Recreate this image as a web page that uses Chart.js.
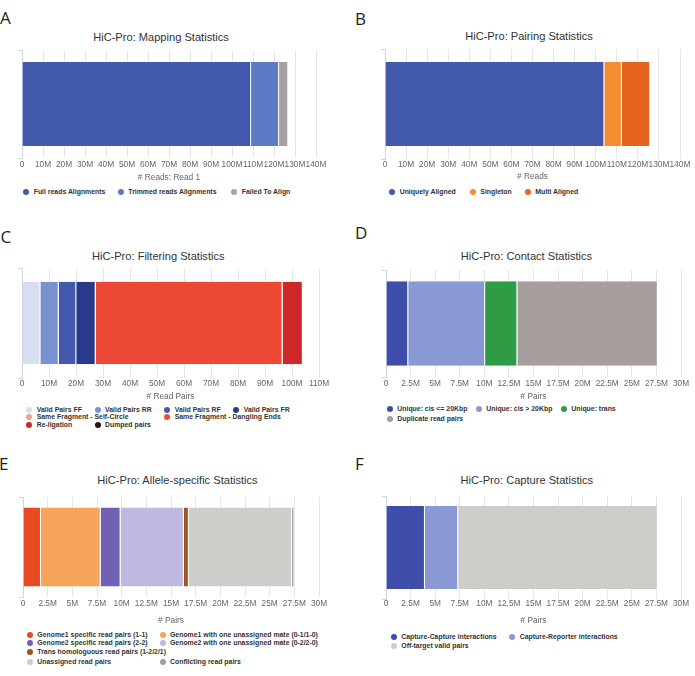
<!DOCTYPE html>
<html><head><meta charset="utf-8">
<script src="https://cdn.jsdelivr.net/npm/chart.js@4.4.1/dist/chart.umd.min.js"></script>
<style>
html,body{margin:0;padding:0;background:#fff;}
body{width:695px;height:676px;position:relative;overflow:hidden;font-family:"Liberation Sans",Arial,sans-serif;}
.letter{position:absolute;font-family:"Open Sans",sans-serif;font-size:17px;line-height:17px;color:#231f20;}
.title{position:absolute;font-size:11.1px;line-height:11px;color:#333;white-space:nowrap;transform:translateX(-50%);}
canvas{position:absolute;}
.leg{position:absolute;font-size:6.9px;font-weight:bold;color:#333;white-space:nowrap;line-height:8px;}
.leg i{position:absolute;width:6px;height:6px;border-radius:50%;left:-10.5px;top:1px;}
</style></head><body>
<script>
// ---------- DATA ----------
// A: Mapping statistics
const mapSeries = ['Full reads Alignments', 'Trimmed reads Alignments', 'Failed To Align'];
const mapValues = [109.1e6, 13.3e6, 4.4e6];
// B: Pairing statistics
const pairSeries = ['Uniquely Aligned', 'Singleton', 'Multi Aligned'];
const pairValues = [104.1e6, 8.3e6, 13.5e6];
// C: Filtering statistics
const filtSeries = ['Valid Pairs FF', 'Valid Pairs RR', 'Valid Pairs RF', 'Valid Pairs FR',
  'Same Fragment - Self-Circle', 'Same Fragment - Dangling Ends', 'Re-ligation', 'Dumped pairs'];
const filtValues = [6.8e6, 6.8e6, 6.5e6, 7.2e6, 0.1e6, 69.1e6, 7.5e6, 0.02e6];
// D: Contact statistics
const contSeries = ['Unique: cis <= 20Kbp', 'Unique: cis > 20Kbp', 'Unique: trans', 'Duplicate read pairs'];
const contValues = [2.26e6, 7.82e6, 3.28e6, 14.28e6];
// E: Allele-specific statistics
const alleleSeries = ['Genome1 specific read pairs (1-1)', 'Genome1 with one unassigned mate (0-1/1-0)',
  'Genome2 specific read pairs (2-2)', 'Genome2 with one unassigned mate (0-2/2-0)',
  'Trans homologuous read pairs (1-2/2/1)', 'Unassigned read pairs', 'Conflicting read pairs'];
const alleleValues = [1.82e6, 6.05e6, 2.02e6, 6.41e6, 0.51e6, 10.46e6, 0.24e6];
// F: Capture statistics
const capSeries = ['Capture-Capture interactions', 'Capture-Reporter interactions', 'Off-target valid pairs'];
const capValues = [3.96e6, 3.38e6, 20.30e6];

// axis ranges (tick labels are formatted as 0, 10M, 2.5M ...)
const axisMaxReads = 140e6, axisStepReads = 10e6;
const axisMaxFilt = 110e6, axisStepFilt = 10e6;
const axisMaxPairs = 30e6, axisStepPairs = 2.5e6;

// ---------- STYLES ----------
const mapColors = ['#4259ae', '#5b7bc4', '#a8a1a1'];
const pairColors = ['#4259ae', '#f58d30', '#e4631e'];
const filtColors = ['#d6def2', '#7891d1', '#4259ae', '#293a8b', '#f2a293', '#ee4935', '#cd2828', '#2b1213'];
const contColors = ['#3e4ea9', '#8a98d3', '#2e9c45', '#a59e9d'];
const alleleColors = ['#e54a21', '#f7a35b', '#7260b4', '#beb9e0', '#a0531d', '#cfcdca', '#a59e9d'];
const capColors = ['#3e4ea9', '#8a98d3', '#cfcdca'];

const panels = [
  {letter:'A', lx:0, ly:8.7, title:'HiC-Pro: Mapping Statistics', tx:161, tb:41,
   plot:[22,316,50,158], bar:0.78, tickPad:1.3, xh:25, max:axisMaxReads, step:axisStepReads,
   axisTitle:'# Reads: Read 1', series:mapSeries, values:mapValues, colors:mapColors,
   legend:[[33.7,192.3],[128.3,192.3],[241.7,192.3]]},
  {letter:'B', lx:355, ly:9.7, title:'HiC-Pro: Pairing Statistics', tx:529, tb:40.7,
   plot:[385,680,49,159], bar:0.765, tickPad:0.5, xh:23, max:axisMaxReads, step:axisStepReads,
   axisTitle:'# Reads', series:pairSeries, values:pairValues, colors:pairColors,
   legend:[[399.7,191.7],[480.3,191.7],[535.3,191.7]]},
  {letter:'C', lx:0.5, ly:227.5, title:'HiC-Pro: Filtering Statistics', tx:158.3, tb:260.7,
   plot:[22,319,268,378], bar:0.75, tickPad:0.3, xh:24, max:axisMaxFilt, step:axisStepFilt,
   axisTitle:'# Read Pairs', series:filtSeries, values:filtValues, colors:filtColors,
   legend:[[36.7,409.7],[105,409.7],[174.7,409.7],[243.7,409.7],[36.7,417.3],[174.7,417.3],[36.7,425],[105,425]]},
  {letter:'D', lx:355, ly:223.7, title:'HiC-Pro: Contact Statistics', tx:526.5, tb:260.7,
   plot:[386,681,270,377], bar:0.79, tickPad:2, xh:25, max:axisMaxPairs, step:axisStepPairs,
   axisTitle:'# Pairs', series:contSeries, values:contValues, colors:contColors,
   legend:[[397.3,409.3],[486.3,409.3],[571.3,409.3],[397.3,419.3]]},
  {letter:'E', lx:-1, ly:455.3, title:'HiC-Pro: Allele-specific Statistics', tx:177.5, tb:484.3,
   plot:[23,319,497,597], bar:0.79, tickPad:2, xh:29, max:axisMaxPairs, step:axisStepPairs,
   axisTitle:'# Pairs', series:alleleSeries, values:alleleValues, colors:alleleColors,
   legend:[[37.3,635],[170,635],[37.3,643.3],[170,643.3],[37.3,651.7],[37.3,661.7],[170,661.7]]},
  {letter:'F', lx:355, ly:455.3, title:'HiC-Pro: Capture Statistics', tx:526.8, tb:484.3,
   plot:[386,681,496,599], bar:0.805, tickPad:0, xh:27, max:axisMaxPairs, step:axisStepPairs,
   axisTitle:'# Pairs', series:capSeries, values:capValues, colors:capColors,
   legend:[[401.3,636.7],[519.7,636.7],[401.3,646]]}
];

function fmt(v){ return v === 0 ? '0' : (Math.round(v/1e5)/10) + 'M'; }

function addDiv(cls, text, left, top){
  const d = document.createElement('div');
  d.className = cls; d.textContent = text;
  d.style.left = left + 'px'; d.style.top = top + 'px';
  document.body.appendChild(d);
  return d;
}

function makePanel(p){
  addDiv('letter', p.letter, p.lx, p.ly);
  addDiv('title', p.title, p.tx, p.tb - 9.3);
  const [pl, pr, pt, pb] = p.plot;
  const padL = 8, tickLen = 4, padR = 14, padT = 2, padB = 1;
  const cw = Math.round(padL + tickLen + (pr - pl) + padR);
  const ch = Math.round(padT + (pb - pt) + p.xh + padB);
  const cv = document.createElement('canvas');
  cv.width = cw; cv.height = ch;
  cv.style.width = cw + 'px'; cv.style.height = ch + 'px';
  cv.style.left = (pl - padL - tickLen) + 'px';
  cv.style.top = (pt - padT) + 'px';
  document.body.appendChild(cv);
  const chart = new Chart(cv, {
    type: 'bar',
    data: {
      labels: [''],
      datasets: p.series.map((s, i) => ({
        label: s, data: [p.values[i]], backgroundColor: p.colors[i],
        borderColor: '#ffffff', borderWidth: {left:0, right:1, top:0, bottom:0}, borderSkipped: false,
        barPercentage: p.bar, categoryPercentage: 1
      }))
    },
    options: {
      indexAxis: 'y', responsive: false, animation: false, devicePixelRatio: 1,
      layout: {padding: {left: padL, right: padR, top: padT, bottom: padB}},
      plugins: {legend: {display: false}, title: {display: false}, tooltip: {enabled: false}},
      scales: {
        x: {
          type: 'linear', stacked: true, min: 0, max: p.max, position: 'bottom',
          ticks: {stepSize: p.step, autoSkip: false, maxRotation: 0, minRotation: 0, padding: p.tickPad,
                  color: '#666', font: {family: 'Liberation Sans', size: 8.3}, callback: v => fmt(v)},
          grid: {color: '#e6e6e6', drawTicks: false, lineWidth: 1},
          border: {display: false},
          title: {display: true, text: p.axisTitle, color: '#666',
                  font: {family: 'Liberation Sans', size: 8.3}, padding: {top: 0, bottom: 0}},
          afterFit: s => { s.height = p.xh; }
        },
        y: {
          type: 'category', stacked: true,
          ticks: {display: false},
          grid: {display: true, drawOnChartArea: false, drawTicks: true, tickLength: 4, color: '#ccd6eb', offset: true},
          border: {display: true, color: '#ccd6eb'}
        }
      }
    }
  });
  chart.data.datasets.forEach((ds, i) => {
    const [x, y] = p.legend[i];
    const d = addDiv('leg', ds.label, x, y - 4);
    const dot = document.createElement('i');
    dot.style.background = ds.backgroundColor;
    d.prepend(dot);
  });
}

panels.forEach(makePanel);
</script>
</body></html>
